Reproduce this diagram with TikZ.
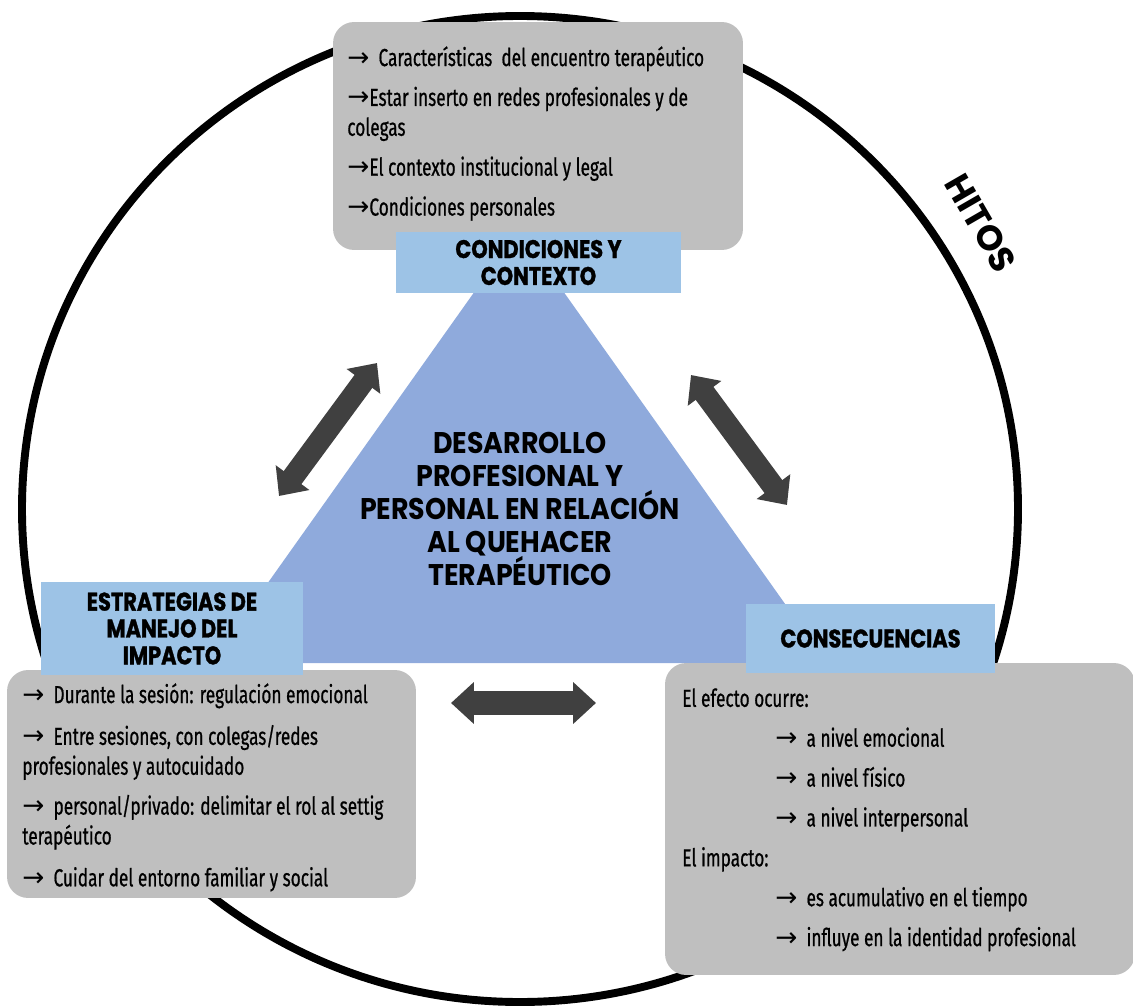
\documentclass[tikz,border=0pt]{standalone}
\usepackage{fontspec}
\setmainfont{Fira Sans}[FakeStretch=0.7, FakeBold=0.7]
\newfontfamily\headfont{Poppins}[FakeStretch=0.82, FakeBold=1.2]
\newfontfamily\corefont{Poppins}[FakeStretch=0.9]
\newfontfamily\ringfont{Poppins}
\newfontfamily\arrowfont{DejaVu Sans}
\newcommand\itemarrow{{\arrowfont\fontsize{15}{15}\selectfont →}}
\usetikzlibrary{arrows.meta}

\definecolor{boxgray}{RGB}{191,191,191}
\definecolor{headblue}{RGB}{157,195,230}
\definecolor{coreblue}{RGB}{143,170,220}
\definecolor{arrowdark}{RGB}{64,64,64}

\begin{document}
\begin{tikzpicture}[x=0.02cm,y=-0.02cm,
  infobox/.style={fill=boxgray, rounded corners=12pt, inner sep=0pt},
  headbox/.style={fill=headblue, inner sep=0pt, align=center,
    font=\headfont\bfseries\fontsize{14.5}{15.3}\selectfont},
  bodytext/.style={anchor=north west, inner sep=0pt, align=left,
    font=\fontsize{14}{17}\selectfont},
  link/.style={draw=arrowdark, line width=12.5pt,
    {Triangle[width=23pt,length=13pt]}-{Triangle[width=23pt,length=13pt]}},
]
\useasboundingbox (0,0) rectangle (1133,1007);

% outer ring
\draw[line width=4.5pt] (520,509) ellipse [x radius=498, y radius=493];
\node[rotate=-60, inner sep=0pt, font=\ringfont\bfseries\fontsize{20}{20}\selectfont]
  (hitos) at (981,223) {HITOS};

% central triangle
\fill[coreblue] (519,229) -- (827,663) -- (211,663) -- cycle;
\node[align=center, inner sep=0pt, font=\corefont\bfseries\fontsize{17}{18.7}\selectfont]
  (core) at (520,509) {DESARROLLO\\PROFESIONAL Y\\PERSONAL EN RELACIÓN\\AL QUEHACER\\TERAPÉUTICO};

% grey information panels
\node[infobox, minimum width=8.2cm, minimum height=4.56cm] (condbox) at (538,136) {};
\node[infobox, minimum width=8.18cm, minimum height=4.56cm] (estrbox) at (211.5,784) {};
\node[infobox, minimum width=9.4cm, minimum height=6.24cm] (consbox) at (900,819) {};

% blue headings
\node[headbox, minimum width=5.7cm, minimum height=1.22cm] (condhead) at (538.5,262.5)
  {CONDICIONES Y\\CONTEXTO};
\node[headbox, minimum width=5.24cm, minimum height=1.86cm] (estrhead) at (172,628.5)
  {ESTRATEGIAS DE\\MANEJO DEL\\IMPACTO};
\node[headbox, minimum width=4.98cm, minimum height=1.38cm] (conshead) at (870.5,638.5)
  {CONSECUENCIAS};

% panel texts
\node[bodytext] (condtxt) at (347,46)
  {\itemarrow\ \ Características\ \ del encuentro terapéutico\\[5.7pt]
   \itemarrow Estar inserto en redes profesionales y de\\
   colegas\\[5.7pt]
   \itemarrow El contexto institucional y legal\\[5.7pt]
   \itemarrow Condiciones personales};
\node[bodytext] (estrtxt) at (22,683)
  {\itemarrow\ \ Durante la sesión: regulación emocional\\[6.8pt]
   \itemarrow\ \ Entre sesiones, con colegas/redes\\
   profesionales y autocuidado\\[5.7pt]
   \itemarrow\ \ personal/privado: delimitar el rol al settig\\
   terapéutico\\[6.8pt]
   \itemarrow\ \ Cuidar del entorno familiar y social};
\node[bodytext, font=\fontsize{14}{22.7}\selectfont] (constxt) at (682,688)
  {El efecto ocurre:\\
   \hspace*{1.86cm}\itemarrow\ \ a nivel emocional\\
   \hspace*{1.86cm}\itemarrow\ \ a nivel físico\\
   \hspace*{1.86cm}\itemarrow\ \ a nivel interpersonal\\
   El impacto:\\
   \hspace*{1.86cm}\itemarrow\ \ es acumulativo en el tiempo\\
   \hspace*{1.86cm}\itemarrow\ \ influye en la identidad profesional};

% two-way links between the three areas
\coordinate (la1) at (279,496); \coordinate (la2) at (377,363);
\coordinate (ra1) at (691,375); \coordinate (ra2) at (787,505);
\coordinate (ba1) at (451,703); \coordinate (ba2) at (596,703);
\draw[link] (la1) -- (la2);
\draw[link] (ra1) -- (ra2);
\draw[link, line width=14pt] (ba1) -- (ba2);
\end{tikzpicture}
\end{document}
